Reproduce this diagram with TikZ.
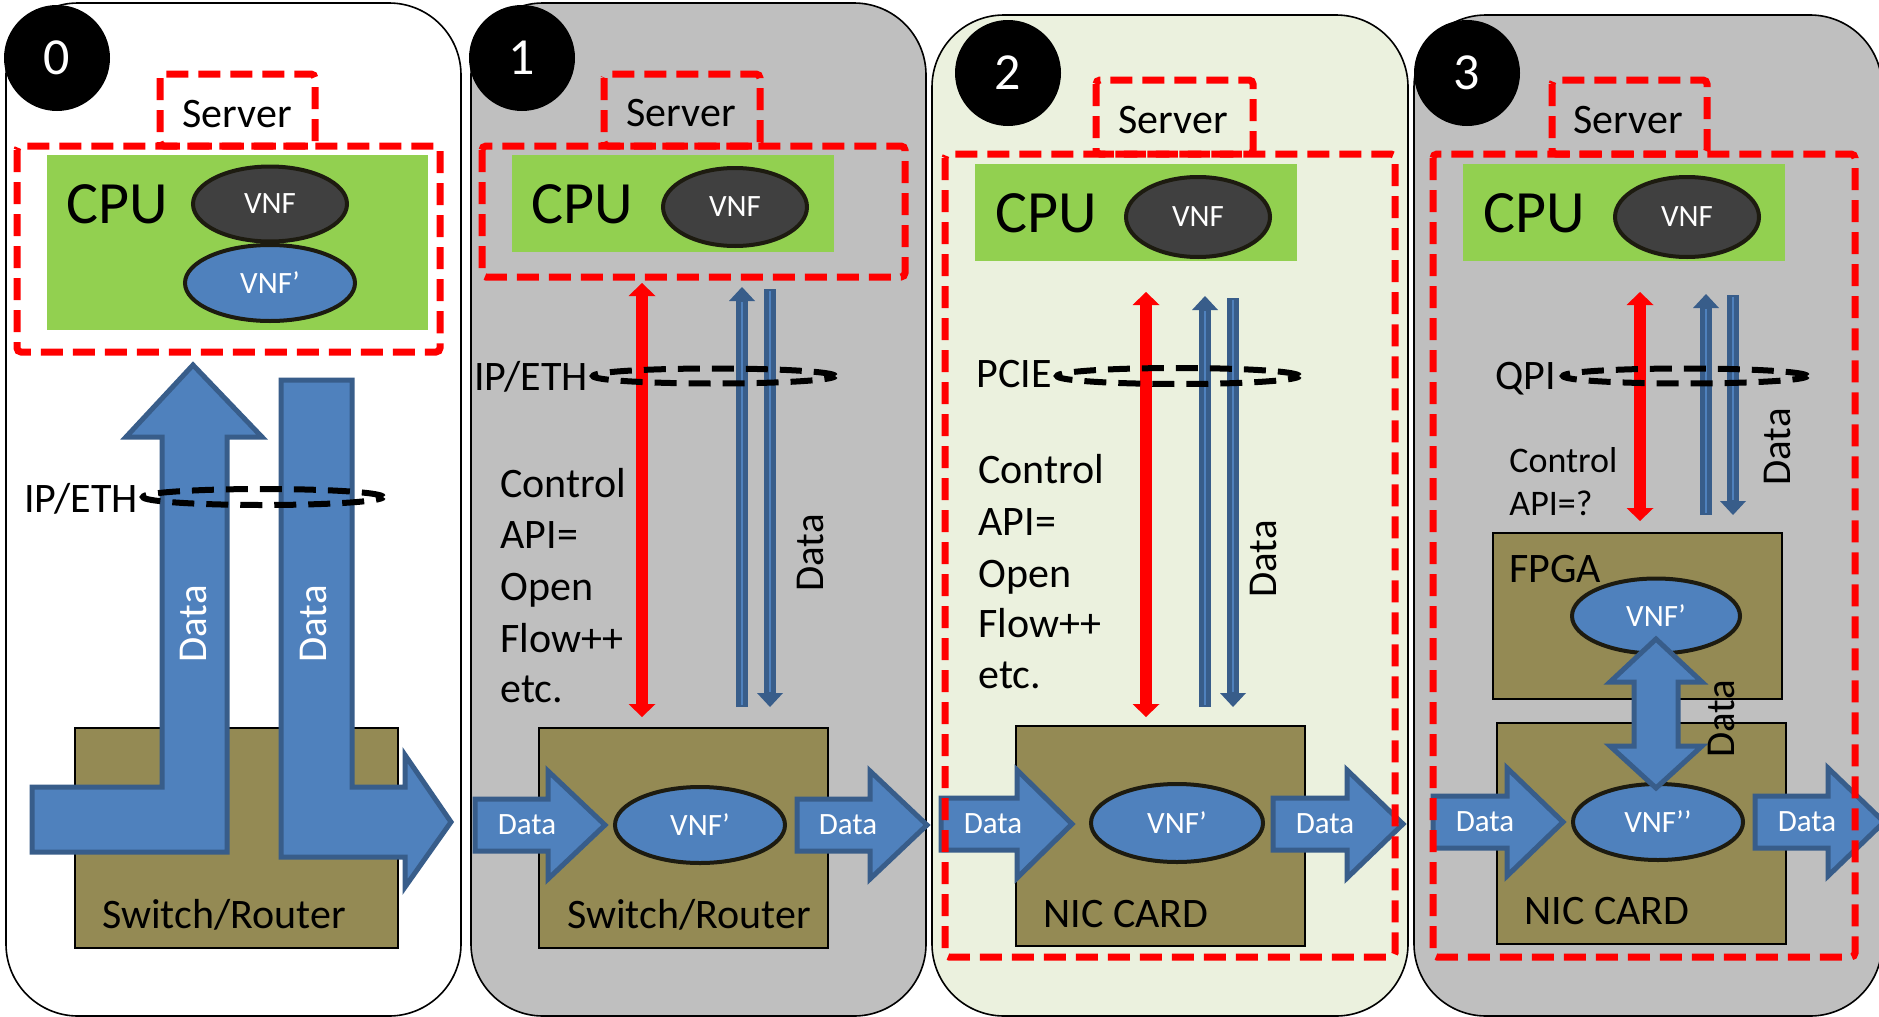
\documentclass[tikz,border=0pt]{standalone}
\usepackage{fontspec}
\setmainfont{Carlito}
\usetikzlibrary{shapes.geometric,arrows.meta}
\definecolor{grayP}{HTML}{BFBFBF}
\definecolor{paleG}{HTML}{EBF1DE}
\definecolor{cpuG}{HTML}{92D050}
\definecolor{oliveB}{HTML}{948A54}
\definecolor{blueF}{HTML}{4F81BD}
\definecolor{blueD}{HTML}{385D8A}
\definecolor{vnfD}{HTML}{404040}
\definecolor{vnfB}{HTML}{1D1B10}
\newcommand\hblockarrow[4]{\draw[blk] (#1,#4-26) -- (#2,#4-26) -- (#2,#4-54) -- (#3,#4) -- (#2,#4+54) -- (#2,#4+26) -- (#1,#4+26) -- cycle;}
\tikzset{
  panel/.style={draw=black, line width=0.8pt, rounded corners=36pt},
  srvbox/.style={draw=red, line width=3.5pt, dash pattern=on 11pt off 5pt, rounded corners=2pt},
  hwbox/.style={draw=black, line width=0.6pt, fill=oliveB},
  numc/.style={circle, fill=black, text=white, minimum size=53pt, inner sep=0pt, font=\fontsize{26}{30}\selectfont},
  vnfdark/.style={ellipse, fill=vnfD, draw=vnfB, line width=2pt, text=white, inner sep=0pt, font=\fontsize{15.5}{18}\selectfont},
  vnfblue/.style={ellipse, fill=blueF, draw=vnfB, line width=2pt, text=white, inner sep=0pt, font=\fontsize{15.5}{18}\selectfont},
  blk/.style={fill=blueF, draw=blueD, line width=2.5pt, line join=miter},
  ctrl/.style={draw=red, line width=6pt, {Triangle[width=13.5pt,length=6.5pt,line width=0pt 0]}-{Triangle[width=13.5pt,length=6.5pt,line width=0pt 0]}},
  dup/.style={draw=blueD, line width=6pt, -{Triangle[width=13pt,length=7pt,line width=0pt 0]}},
  dline/.style={draw=blueF, line width=1.1pt, shorten >=7.5pt, shorten <=0.8pt},
  bus/.style={draw=black, line width=3pt, dash pattern=on 11pt off 6pt},
  lbl/.style={inner sep=0pt, font=\fontsize{21}{25}\selectfont},
  small/.style={inner sep=0pt, font=\fontsize{18}{22}\selectfont},
  cpulbl/.style={inner sep=0pt, font=\fontsize{30}{36}\selectfont},
  wdata/.style={inner sep=0pt, text=white, font=\fontsize{15.5}{18}\selectfont},
  rdata/.style={inner sep=0pt, rotate=90, font=\fontsize{20.5}{24}\selectfont},
}
\begin{document}
\begin{tikzpicture}[x=0.5pt,y=-0.5pt]
\useasboundingbox (0,0) rectangle (1879,1017);

% ================= Panel 0 =================
\draw[panel, fill=white] (6,3) rectangle (461,1016);
\draw[srvbox] (160,74) rectangle (315,146);
\draw[srvbox] (17,146) rectangle (440,352);
\fill[cpuG] (47,155) rectangle (428,330);
\node[cpulbl, anchor=base west] (cpu0) at (66,223) {CPU};
\node[vnfdark, minimum width=77pt, minimum height=37.5pt] (vnf0) at (270,204) {VNF};
\node[vnfblue, minimum width=85pt, minimum height=38pt] (vnfp0) at (270,283) {VNF’};
\node[lbl, anchor=base] (srv0) at (237,127) {Server};
\draw[hwbox] (75,728) rectangle (398,948);
\node[lbl, anchor=base] (sw0) at (224,928) {Switch/Router};
\draw[blk] (32,787) -- (162,787) -- (162,437) -- (126,437) -- (193,365) -- (262,437) -- (227,437) -- (227,852) -- (32,852) -- cycle;
\draw[blk] (281,380) -- (352,380) -- (352,787) -- (405,787) -- (405,755) -- (451,822) -- (405,887) -- (405,857) -- (281,857) -- cycle;
\node[rdata, text=white] (d0a) at (193,624) {Data};
\node[rdata, text=white] (d0b) at (313,624) {Data};
\draw[bus] (263,497) ellipse [x radius=60pt, y radius=4pt];
\node[lbl, anchor=base west] (ip0) at (24,512) {IP/ETH};
\node[numc] (n0) at (57,58) {0};

% ================= Panel 1 =================
\draw[panel, fill=grayP] (471,3) rectangle (926,1016);
\draw[srvbox] (604,74) rectangle (760,146);
\draw[srvbox] (482,146) rectangle (905,277);
\fill[cpuG] (512,155) rectangle (834,252);
\node[cpulbl, anchor=base west] (cpu1) at (531,223) {CPU};
\node[vnfdark, minimum width=72pt, minimum height=39pt] (vnf1) at (735,207) {VNF};
\node[lbl, anchor=base] (srv1) at (681,126) {Server};
\draw[hwbox] (539,728) rectangle (828,948);
\node[lbl, anchor=base] (sw1) at (689,928) {Switch/Router};
\node[vnfblue, minimum width=85pt, minimum height=38pt] (vnfp1) at (700,825) {VNF’};
\hblockarrow{475}{548}{605}{825}
\hblockarrow{797}{870}{927}{825}
\node[wdata] (in1) at (527,825) {Data};
\node[wdata] (out1) at (848,825) {Data};
\coordinate (r1t) at (642,283);
\coordinate (r1b) at (642,717);
\draw[ctrl] (r1b) -- (r1t);
\coordinate (u1t) at (742,287);
\coordinate (u1b) at (742,707);
\draw[dup] (u1b) -- (u1t);
\draw[dline] (u1b) -- (u1t);
\coordinate (w1t) at (770,289);
\coordinate (w1b) at (770,707);
\draw[dup] (w1t) -- (w1b);
\draw[dline] (w1t) -- (w1b);
\draw[bus] (714,376) ellipse [x radius=60.5pt, y radius=3.75pt];
\node[lbl, anchor=base west] (ip1) at (474,390) {IP/ETH};
\node[lbl, anchor=base west] (c1a) at (500,497) {Control};
\node[lbl, anchor=base west] (c1b) at (500,548) {API=};
\node[lbl, anchor=base west] (c1c) at (500,600) {Open};
\node[lbl, anchor=base west] (c1d) at (500,652) {Flow++};
\node[lbl, anchor=base west] (c1e) at (500,702) {etc.};
\node[rdata] (d1) at (810,553) {Data};
\node[numc] (n1) at (522,58) {1};

% ================= Panel 2 =================
\draw[panel, fill=paleG] (932,15) rectangle (1408,1016);
\fill[cpuG] (975,164) rectangle (1297,261);
\node[cpulbl, anchor=base west] (cpu2) at (995,232) {CPU};
\node[vnfdark, minimum width=72pt, minimum height=40pt] (vnf2) at (1198,217) {VNF};
\node[lbl, anchor=base] (srv2) at (1173,133) {Server};
\draw[hwbox] (1016,726) rectangle (1305,946);
\node[lbl, anchor=base] (nic2) at (1126,927) {NIC CARD};
\node[vnfblue, minimum width=86pt, minimum height=39pt] (vnfp2) at (1177,823) {VNF’};
\hblockarrow{941}{1017}{1072}{824}
\hblockarrow{1273}{1347}{1403}{824}
\node[wdata] (in2) at (993,824) {Data};
\node[wdata] (out2) at (1325,824) {Data};
\coordinate (r2t) at (1146,292);
\coordinate (r2b) at (1146,717);
\draw[ctrl] (r2b) -- (r2t);
\coordinate (u2t) at (1205,296);
\coordinate (u2b) at (1205,707);
\draw[dup] (u2b) -- (u2t);
\draw[dline] (u2b) -- (u2t);
\coordinate (w2t) at (1233,298);
\coordinate (w2b) at (1233,707);
\draw[dup] (w2t) -- (w2b);
\draw[dline] (w2t) -- (w2b);
\draw[bus] (1178,376) ellipse [x radius=60.5pt, y radius=4pt];
\node[lbl, anchor=base west] (pcie) at (976,387) {PCIE};
\node[lbl, anchor=base west] (c2a) at (978,483) {Control};
\node[lbl, anchor=base west] (c2b) at (978,535) {API=};
\node[lbl, anchor=base west] (c2c) at (978,587) {Open};
\node[lbl, anchor=base west] (c2d) at (978,637) {Flow++};
\node[lbl, anchor=base west] (c2e) at (978,688) {etc.};
\node[rdata] (d2) at (1263,559) {Data};
\draw[srvbox] (1096,80) rectangle (1253,154);
\draw[srvbox] (945,154) rectangle (1395,957);
\node[numc] (n2) at (1008,73) {2};

% ================= Panel 3 =================
\draw[panel, fill=grayP] (1414,15) rectangle (1882,1016);
\fill[cpuG] (1463,164) rectangle (1785,261);
\node[cpulbl, anchor=base west] (cpu3) at (1483,232) {CPU};
\node[vnfdark, minimum width=72pt, minimum height=40pt] (vnf3) at (1687,217) {VNF};
\node[lbl, anchor=base] (srv3) at (1628,133) {Server};
\draw[hwbox] (1493,533) rectangle (1782,699);
\node[lbl, anchor=base west] (fpga) at (1509,582) {FPGA};
\draw[hwbox] (1497,723) rectangle (1786,944);
\node[lbl, anchor=base] (nic3) at (1607,924) {NIC CARD};
\node[vnfblue, minimum width=84pt, minimum height=37.5pt] (vnfp3) at (1656,616) {VNF’};
\node[vnfblue, minimum width=85pt, minimum height=38pt] (vnfpp3) at (1658,822) {VNF’’};
\draw[blk] (1656,639) -- (1702,682) -- (1678,682) -- (1678,746) -- (1702,746) -- (1656,788) -- (1610,746) -- (1634,746) -- (1634,682) -- (1610,682) -- cycle;
\node[rdata] (d3b) at (1721,719) {Data};
\hblockarrow{1433}{1507}{1563}{822}
\hblockarrow{1755}{1828}{1884}{822}
\node[wdata] (in3) at (1485,822) {Data};
\node[wdata] (out3) at (1807,822) {Data};
\coordinate (r3t) at (1640,292);
\coordinate (r3b) at (1640,521);
\draw[ctrl] (r3b) -- (r3t);
\coordinate (u3t) at (1706,294);
\coordinate (u3b) at (1706,515);
\draw[dup] (u3b) -- (u3t);
\draw[dline] (u3b) -- (u3t);
\coordinate (w3t) at (1733,295);
\coordinate (w3b) at (1733,515);
\draw[dup] (w3t) -- (w3b);
\draw[dline] (w3t) -- (w3b);
\draw[bus] (1685,376) ellipse [x radius=61pt, y radius=3.75pt];
\node[lbl, anchor=base west] (qpi) at (1495,389) {QPI};
\node[small, anchor=base west] (c3a) at (1509,472) {Control};
\node[small, anchor=base west] (c3b) at (1509,515) {API=?};
\node[rdata] (d3a) at (1777,447) {Data};
\draw[srvbox] (1552,80) rectangle (1707,154);
\draw[srvbox] (1433,154) rectangle (1855,957);
\node[numc] (n3) at (1467,73) {3};
\end{tikzpicture}
\end{document}
